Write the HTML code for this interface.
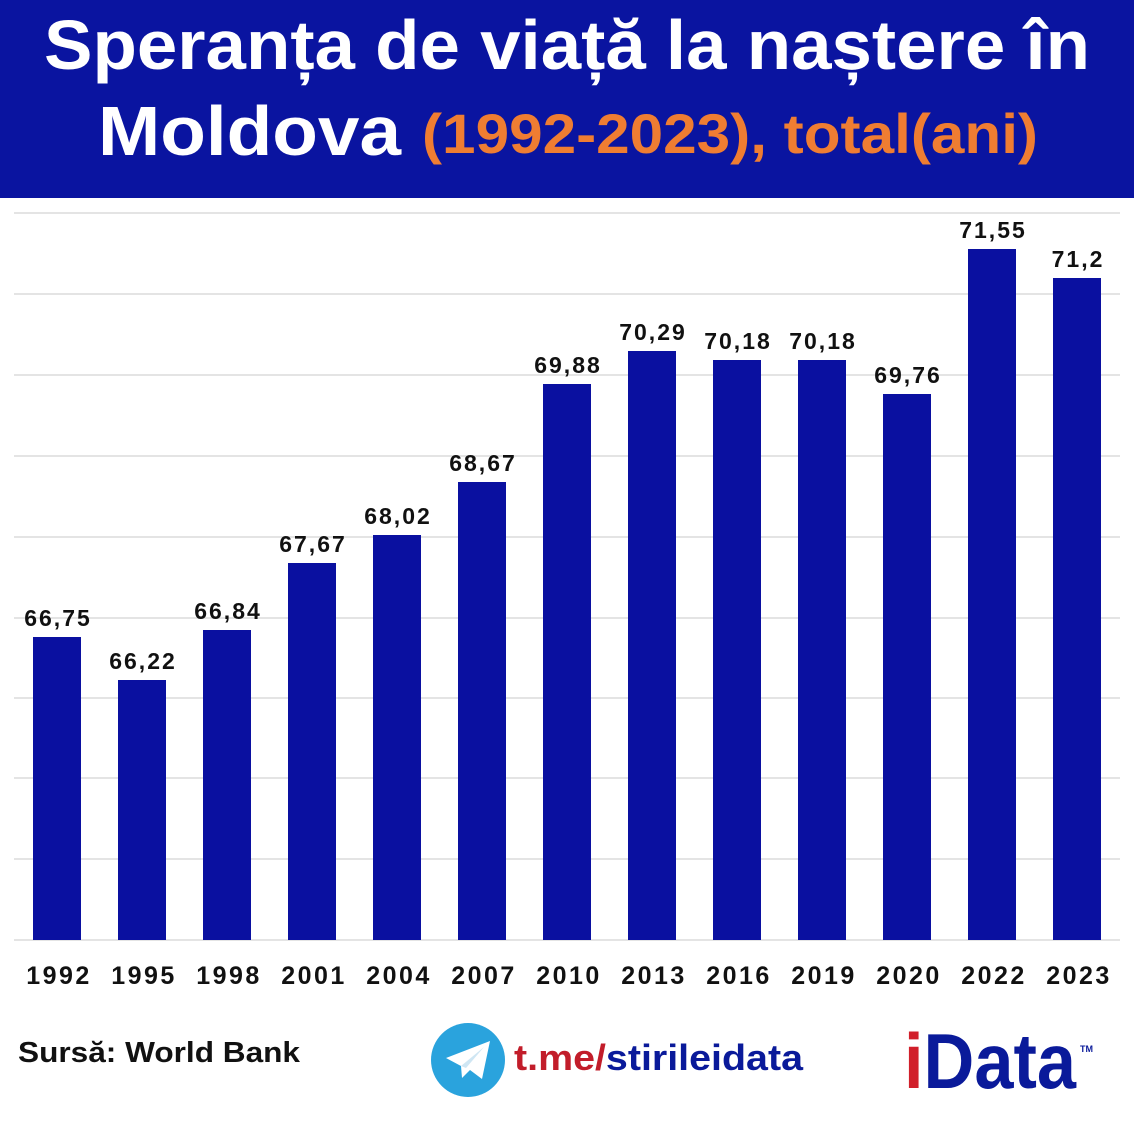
<!DOCTYPE html>
<html><head><meta charset="utf-8"><style>html,body{margin:0;padding:0;background:#fff}svg{display:block}</style></head>
<body>
<svg width="1134" height="1134" viewBox="0 0 1134 1134" xmlns="http://www.w3.org/2000/svg" font-family="Liberation Sans, DejaVu Sans, sans-serif" font-weight="bold">
<rect width="1134" height="1134" fill="#fff"/>
<rect x="0" y="0" width="1134" height="198" fill="#0a14a0"/>
<text x="44" y="69" font-size="70" fill="#fff" textLength="1046" lengthAdjust="spacingAndGlyphs">Speranța de viață la naștere în</text>
<text x="98" y="155" font-size="70" fill="#fff" textLength="303" lengthAdjust="spacingAndGlyphs">Moldova</text>
<text x="422" y="153" font-size="56" fill="#ef7d32" textLength="616" lengthAdjust="spacingAndGlyphs">(1992-2023), total(ani)</text>
<g stroke="#dcdcdc" stroke-width="1.5">
<line x1="14" x2="1120" y1="213" y2="213"/>
<line x1="14" x2="1120" y1="294" y2="294"/>
<line x1="14" x2="1120" y1="375" y2="375"/>
<line x1="14" x2="1120" y1="456" y2="456"/>
<line x1="14" x2="1120" y1="537" y2="537"/>
<line x1="14" x2="1120" y1="618" y2="618"/>
<line x1="14" x2="1120" y1="698" y2="698"/>
<line x1="14" x2="1120" y1="778" y2="778"/>
<line x1="14" x2="1120" y1="859" y2="859"/>
<line x1="14" x2="1120" y1="940" y2="940"/>
</g>
<g fill="#0a10a0">
<rect x="33" y="637" width="48" height="303"/>
<rect x="118" y="680" width="48" height="260"/>
<rect x="203" y="630" width="48" height="310"/>
<rect x="288" y="563" width="48" height="377"/>
<rect x="373" y="535" width="48" height="405"/>
<rect x="458" y="482" width="48" height="458"/>
<rect x="543" y="384" width="48" height="556"/>
<rect x="628" y="351" width="48" height="589"/>
<rect x="713" y="360" width="48" height="580"/>
<rect x="798" y="360" width="48" height="580"/>
<rect x="883" y="394" width="48" height="546"/>
<rect x="968" y="249" width="48" height="691"/>
<rect x="1053" y="278" width="48" height="662"/>
</g>
<g font-size="23" fill="#111" text-anchor="middle" letter-spacing="2">
<text x="58" y="626">66,75</text>
<text x="143" y="669">66,22</text>
<text x="228" y="619">66,84</text>
<text x="313" y="552">67,67</text>
<text x="398" y="524">68,02</text>
<text x="483" y="471">68,67</text>
<text x="568" y="373">69,88</text>
<text x="653" y="340">70,29</text>
<text x="738" y="349">70,18</text>
<text x="823" y="349">70,18</text>
<text x="908" y="383">69,76</text>
<text x="993" y="238">71,55</text>
<text x="1078" y="267">71,2</text>
</g>
<g font-size="25" fill="#111" text-anchor="middle" letter-spacing="2.5">
<text x="59" y="984">1992</text><text x="144" y="984">1995</text><text x="229" y="984">1998</text>
<text x="314" y="984">2001</text><text x="399" y="984">2004</text><text x="484" y="984">2007</text>
<text x="569" y="984">2010</text><text x="654" y="984">2013</text><text x="739" y="984">2016</text>
<text x="824" y="984">2019</text><text x="909" y="984">2020</text><text x="994" y="984">2022</text>
<text x="1079" y="984">2023</text>
</g>
<text x="18" y="1062" font-size="29" fill="#111" textLength="282" lengthAdjust="spacingAndGlyphs">Sursă: World Bank</text>
<circle cx="468" cy="1060" r="37" fill="#2aa3dd"/>
<path d="M446 1058 L490 1041 L482 1079 L470 1070 L462 1078 L461 1066 Z" fill="#fff"/>
<path d="M461 1066 L484 1047 L466 1068 Z" fill="#cfe6f3"/>
<text x="514" y="1070" font-size="36" textLength="289" lengthAdjust="spacingAndGlyphs"><tspan fill="#c21d2a">t.me/</tspan><tspan fill="#0a1a9a">stirileidata</tspan></text>
<text x="904" y="1088" font-size="78" fill="#0a1a9a" textLength="172" lengthAdjust="spacingAndGlyphs"><tspan fill="#d11f2a">i</tspan>Data</text>
<text x="1080" y="1052" font-size="9" fill="#0a1a9a">TM</text>
</svg>
</body></html>
